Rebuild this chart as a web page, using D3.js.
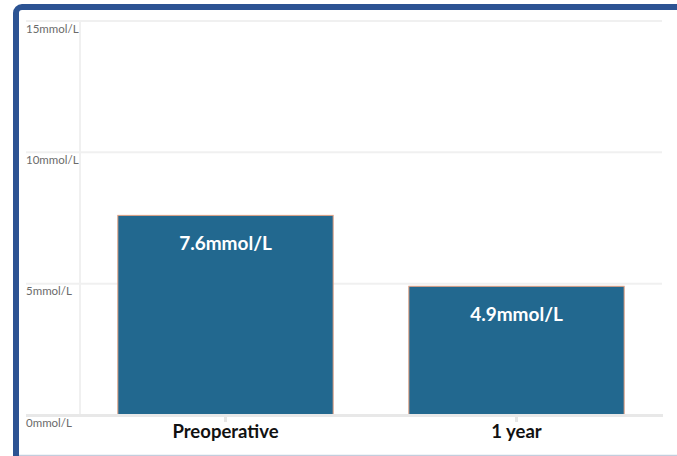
<!DOCTYPE html>
<html>
<head>
<meta charset="utf-8">
<script src="https://cdn.jsdelivr.net/npm/d3@7"></script>
<style>
  html, body { margin: 0; padding: 0; background: #fff; }
  svg { display: block; }
</style>
</head>
<body>
<svg id="chart" width="677" height="456"></svg>
<script>
// Glucose levels before surgery and after one year
const categories = ["Preoperative", "1 year"];
const values = [7.6, 4.9];
const tickValues = [0, 5, 10, 15];
const unit = "mmol/L";

const W = 677, H = 456;
const svg = d3.select("#chart");

// Frame
svg.append("rect")
  .attr("x", 16).attr("y", 7)
  .attr("width", W + 20).attr("height", H + 10)
  .attr("rx", 6)
  .attr("fill", "#fff")
  .attr("stroke", "#2c5393")
  .attr("stroke-width", 6);
svg.append("line")
  .attr("x1", 19).attr("x2", W)
  .attr("y1", 455.5).attr("y2", 455.5)
  .attr("stroke", "#c3cddd").attr("stroke-width", 1.5);

const plot = { left: 80, right: 662, top: 21, bottom: 415 };

const y = d3.scaleLinear().domain([0, 15]).range([plot.bottom, plot.top]);
const x = d3.scaleBand().domain(categories)
  .range([plot.left, plot.right])
  .paddingInner(0.26).paddingOuter(0.13);

const font = "Lato, 'Source Sans Pro', sans-serif";

// Horizontal gridlines with left-aligned labels below each line
const grid = svg.append("g");
grid.selectAll("line.h")
  .data(tickValues.filter(d => d > 0))
  .join("line")
  .attr("class", "h")
  .attr("x1", 26).attr("x2", plot.right)
  .attr("y1", d => y(d)).attr("y2", d => y(d))
  .attr("stroke", "#f0f0f0").attr("stroke-width", 2);

// Vertical axis line
grid.append("line")
  .attr("x1", plot.left).attr("x2", plot.left)
  .attr("y1", plot.top).attr("y2", plot.bottom)
  .attr("stroke", "#f0f0f0").attr("stroke-width", 2);

grid.selectAll("text.tick")
  .data(tickValues)
  .join("text")
  .attr("class", "tick")
  .attr("x", 26)
  .attr("y", d => y(d) + 11.5)
  .attr("font-family", font)
  .attr("font-size", 11.5)
  .attr("fill", "#6b6b6b")
  .text(d => d + unit);

// Bars
svg.append("g").selectAll("rect")
  .data(values)
  .join("rect")
  .attr("x", (d, i) => x(categories[i]))
  .attr("y", d => y(d))
  .attr("width", x.bandwidth())
  .attr("height", d => y(0) - y(d))
  .attr("fill", "#22688f")
  .attr("stroke", "#e3a082")
  .attr("stroke-width", 1);

// Baseline
svg.append("line")
  .attr("x1", 26).attr("x2", plot.right + 1)
  .attr("y1", y(0) + 0.5).attr("y2", y(0) + 0.5)
  .attr("stroke", "#e8e8e8").attr("stroke-width", 3);

// Category ticks
const xAxis = d3.axisBottom(x).tickSize(5).tickFormat(d => d);
const xg = svg.append("g")
  .attr("transform", `translate(0,${y(0) + 2})`)
  .call(xAxis);
xg.select(".domain").remove();
xg.selectAll(".tick line").attr("stroke", "#e6e6e6").attr("stroke-width", 3);
xg.selectAll(".tick text")
  .attr("y", 21)
  .attr("dy", 0)
  .attr("font-family", font)
  .attr("font-size", 18.5)
  .attr("font-weight", "bold")
  .attr("fill", "#111");

// Value labels inside bars
svg.append("g").selectAll("text")
  .data(values)
  .join("text")
  .attr("x", (d, i) => x(categories[i]) + x.bandwidth() / 2)
  .attr("y", d => y(d) + 35)
  .attr("text-anchor", "middle")
  .attr("font-family", font)
  .attr("font-size", 19)
  .attr("font-weight", "bold")
  .attr("fill", "#fff")
  .text(d => d + unit);
</script>
</body>
</html>
